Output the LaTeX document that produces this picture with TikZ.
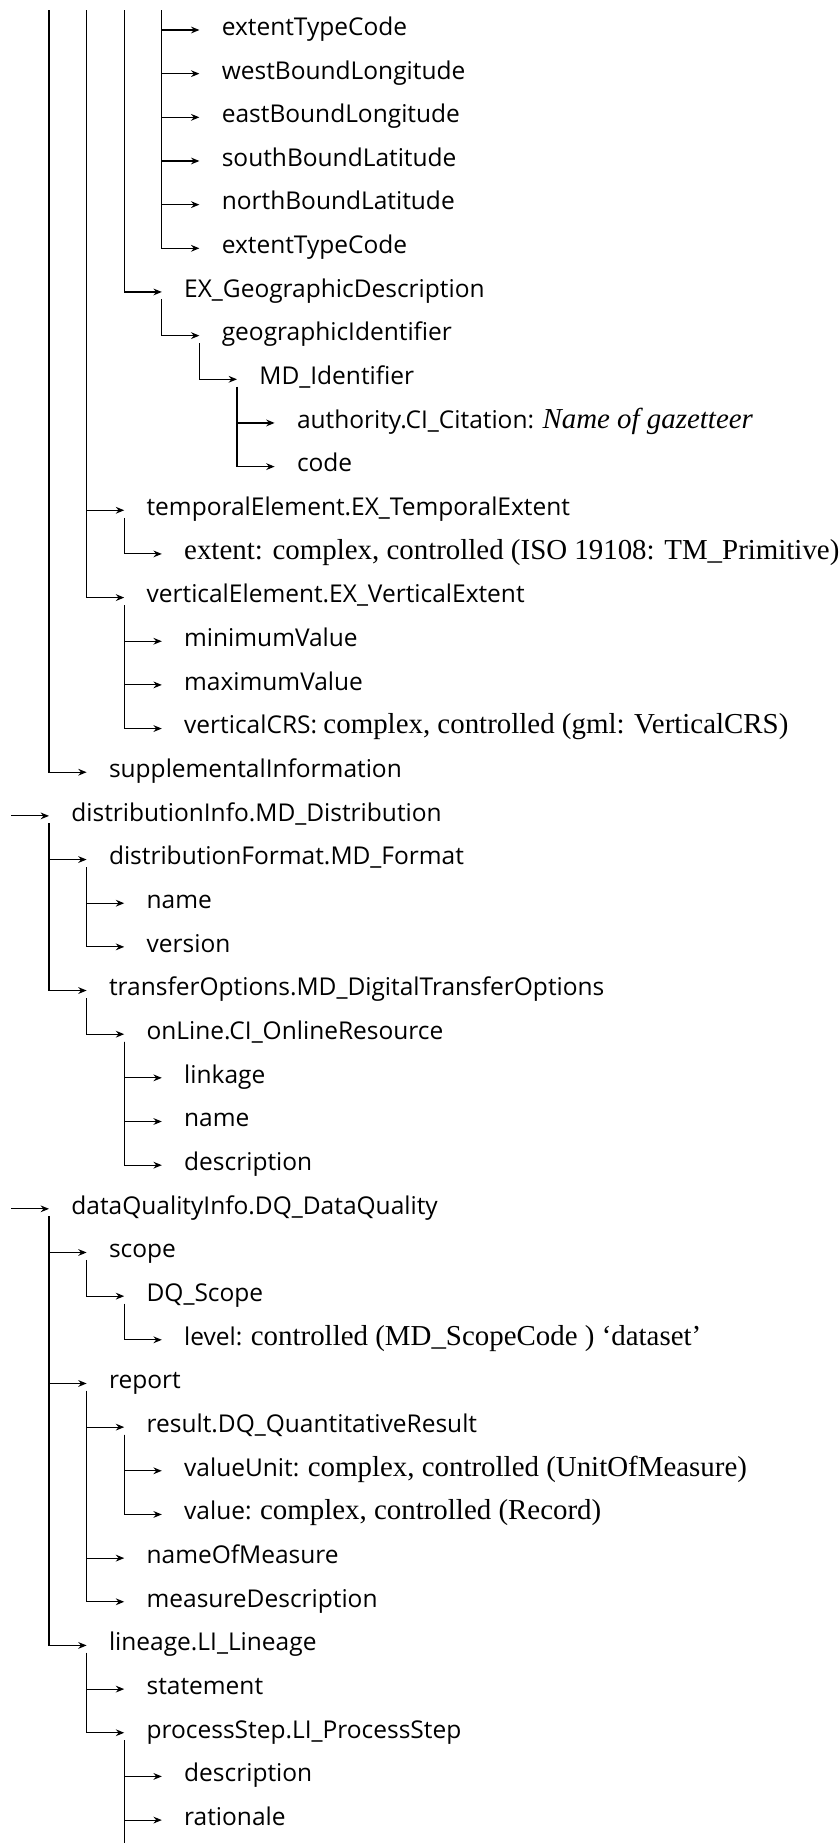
\documentclass[tikz,border=0pt]{standalone}
\usepackage{fontspec}
\setmainfont{Open Sans}
\newfontfamily\srf[Scale=1.18]{Liberation Serif}
\usetikzlibrary{arrows.meta}
% connector from a parent entry down and across to one of its children
\newcommand\kid[2]{\draw[link] ([xshift=-11pt,yshift=-3.75pt]#1.mid west) |- ([xshift=-11pt]#2.mid west);}
\newcommand\gap[1]{([xshift=-11pt]#1.mid west)}
\begin{document}
\begin{tikzpicture}[x=0.5pt,y=-0.5pt,
  declare function={tx(\d)=71+37.6*\d; ry(\r)=30+43.66*\r;},
  item/.style={anchor=mid west, inner sep=0pt, font=\fontsize{12.25}{14}\selectfont},
  link/.style={line width=0.55pt, -{Stealth[length=4.2pt,width=3.4pt,inset=1.4pt]}},
  plain/.style={line width=0.55pt}]
\useasboundingbox (0,0) rectangle (840,1843);

% entries: depth sets the indent, row sets the line
\node[item] (ext1)     at ({tx(4)},{ry(0)})  {extentTypeCode};
\node[item] (west)     at ({tx(4)},{ry(1)})  {westBoundLongitude};
\node[item] (east)     at ({tx(4)},{ry(2)})  {eastBoundLongitude};
\node[item] (south)    at ({tx(4)},{ry(3)})  {southBoundLatitude};
\node[item] (north)    at ({tx(4)},{ry(4)})  {northBoundLatitude};
\node[item] (ext2)     at ({tx(4)},{ry(5)})  {extentTypeCode};
\node[item] (geodesc)  at ({tx(3)},{ry(6)})  {EX\_GeographicDescription};
\node[item] (geoid)    at ({tx(4)},{ry(7)})  {geographicIdentifier};
\node[item] (mdid)     at ({tx(5)},{ry(8)})  {MD\_Identifier};
\node[item] (auth)     at ({tx(6)},{ry(9)})  {authority.CI\_Citation: {\srf\itshape Name of gazetteer}};
\node[item] (code)     at ({tx(6)},{ry(10)}) {code};
\node[item] (temporal) at ({tx(2)},{ry(11)}) {temporalElement.EX\_TemporalExtent};
\node[item] (tmext)    at ({tx(3)},{ry(12)}) {\srf extent: complex, controlled (ISO 19108: TM\_Primitive)};
\node[item] (vertical) at ({tx(2)},{ry(13)}) {verticalElement.EX\_VerticalExtent};
\node[item] (minv)     at ({tx(3)},{ry(14)}) {minimumValue};
\node[item] (maxv)     at ({tx(3)},{ry(15)}) {maximumValue};
\node[item] (vcrs)     at ({tx(3)},{ry(16)}) {verticalCRS: {\srf complex, controlled (gml: VerticalCRS)}};
\node[item] (suppl)    at ({tx(1)},{ry(17)}) {supplementalInformation};
\node[item] (distinfo) at ({tx(0)},{ry(18)}) {distributionInfo.MD\_Distribution};
\node[item] (distfmt)  at ({tx(1)},{ry(19)}) {distributionFormat.MD\_Format};
\node[item] (fmtname)  at ({tx(2)},{ry(20)}) {name};
\node[item] (fmtver)   at ({tx(2)},{ry(21)}) {version};
\node[item] (transfer) at ({tx(1)},{ry(22)}) {transferOptions.MD\_DigitalTransferOptions};
\node[item] (online)   at ({tx(2)},{ry(23)}) {onLine.CI\_OnlineResource};
\node[item] (linkage)  at ({tx(3)},{ry(24)}) {linkage};
\node[item] (olname)   at ({tx(3)},{ry(25)}) {name};
\node[item] (oldesc)   at ({tx(3)},{ry(26)}) {description};
\node[item] (dqinfo)   at ({tx(0)},{ry(27)}) {dataQualityInfo.DQ\_DataQuality};
\node[item] (scope)    at ({tx(1)},{ry(28)}) {scope};
\node[item] (dqscope)  at ({tx(2)},{ry(29)}) {DQ\_Scope};
\node[item] (level)    at ({tx(3)},{ry(30)}) {level: {\srf controlled (MD\_ScopeCode ) ‘dataset’}};
\node[item] (report)   at ({tx(1)},{ry(31)}) {report};
\node[item] (result)   at ({tx(2)},{ry(32)}) {result.DQ\_QuantitativeResult};
\node[item] (vunit)    at ({tx(3)},{ry(33)}) {valueUnit: {\srf complex, controlled (UnitOfMeasure)}};
\node[item] (value)    at ({tx(3)},{ry(34)}) {value: {\srf complex, controlled (Record)}};
\node[item] (measname) at ({tx(2)},{ry(35)}) {nameOfMeasure};
\node[item] (measdesc) at ({tx(2)},{ry(36)}) {measureDescription};
\node[item] (lineage)  at ({tx(1)},{ry(37)}) {lineage.LI\_Lineage};
\node[item] (statement) at ({tx(2)},{ry(38)}) {statement};
\node[item] (procstep) at ({tx(2)},{ry(39)}) {processStep.LI\_ProcessStep};
\node[item] (psdesc)   at ({tx(3)},{ry(40)}) {description};
\node[item] (rationale) at ({tx(3)},{ry(41)}) {rationale};

% branches coming in from above and going on below
\coordinate (up1) at ({tx(0)-22},10);
\coordinate (up2) at ({tx(1)-22},10);
\coordinate (up3) at ({tx(2)-22},10);
\coordinate (up4) at ({tx(3)-22},10);
\coordinate (in18) at (11,{ry(18)});
\coordinate (in27) at (11,{ry(27)});
\coordinate (down) at ({tx(2)-22},1843);

\foreach \c in {ext1,west,east,south,north,ext2} {\draw[link] (up4) |- \gap{\c};}
\draw[link] (up3) |- \gap{geodesc};
\kid{geodesc}{geoid}
\kid{geoid}{mdid}
\kid{mdid}{auth}
\kid{mdid}{code}
\draw[link] (up2) |- \gap{temporal};
\draw[link] (up2) |- \gap{vertical};
\kid{temporal}{tmext}
\kid{vertical}{minv}
\kid{vertical}{maxv}
\kid{vertical}{vcrs}
\draw[link] (up1) |- \gap{suppl};

\draw[link] (in18) -- \gap{distinfo};
\kid{distinfo}{distfmt}
\kid{distinfo}{transfer}
\kid{distfmt}{fmtname}
\kid{distfmt}{fmtver}
\kid{transfer}{online}
\kid{online}{linkage}
\kid{online}{olname}
\kid{online}{oldesc}

\draw[link] (in27) -- \gap{dqinfo};
\kid{dqinfo}{scope}
\kid{dqinfo}{report}
\kid{dqinfo}{lineage}
\kid{scope}{dqscope}
\kid{dqscope}{level}
\kid{report}{result}
\kid{report}{measname}
\kid{report}{measdesc}
\kid{result}{vunit}
\kid{result}{value}
\kid{lineage}{statement}
\kid{lineage}{procstep}
\kid{procstep}{psdesc}
\kid{procstep}{rationale}
\draw[plain] ([xshift=-11pt,yshift=-3.75pt]procstep.mid west) -- (down);
\end{tikzpicture}
\end{document}
